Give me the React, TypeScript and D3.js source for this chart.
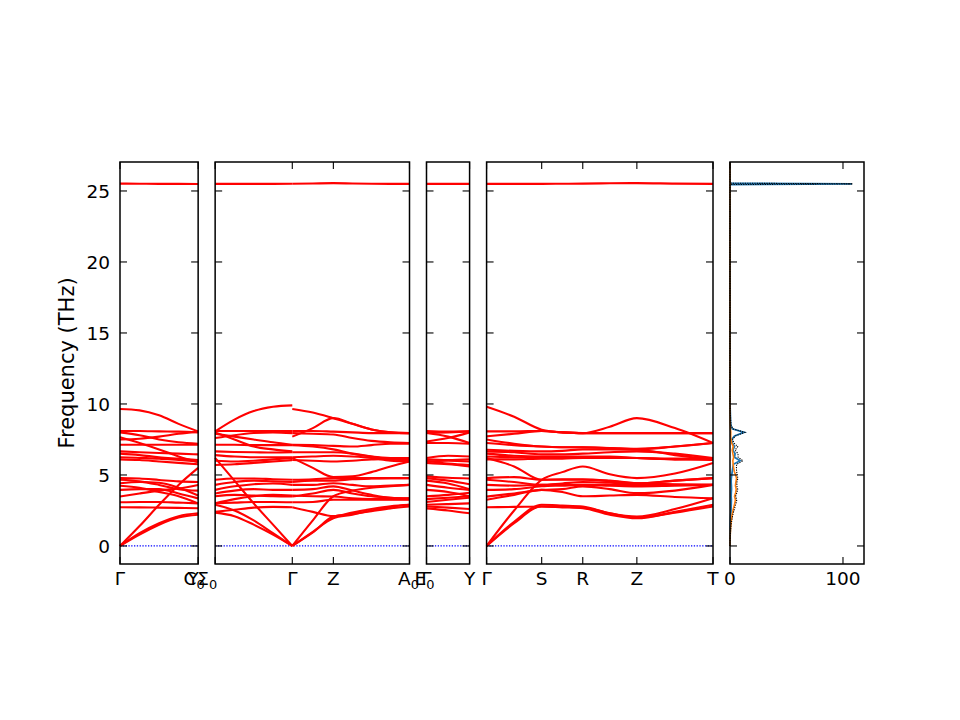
import React from 'react';
import * as d3 from 'd3';

// ---- band data (THz), one array per band, sampled at the k points of each segment ----
const kGY = [0, 19.5, 39, 58.5, 78];
const bandsGY = [
  [0, 1.4, 2.9, 4.3, 5.5],
  [0, 0.9, 1.6, 2.1, 2.3],
  [0, 0.8, 1.5, 2.0, 2.2],
  [2.73, 2.72, 2.7, 2.68, 2.66],
  [3.08, 3.1, 3.1, 3.05, 3.0],
  [3.48, 3.7, 3.9, 4.05, 4.3],
  [3.95, 4.0, 4.0, 3.7, 3.35],
  [4.24, 4.1, 3.8, 3.5, 3.0],
  [4.42, 4.5, 4.45, 4.1, 3.55],
  [4.66, 4.55, 4.3, 4.0, 3.9],
  [4.78, 4.75, 4.65, 4.55, 4.5],
  [6.1, 6.05, 5.95, 5.85, 5.75],
  [6.25, 6.2, 6.15, 6.05, 5.95],
  [6.5, 6.4, 6.25, 6.15, 6.05],
  [6.66, 6.6, 6.55, 6.5, 6.45],
  [7.13, 7.13, 7.13, 7.13, 7.13],
  [7.65, 7.25, 6.8, 6.3, 5.9],
  [7.5, 7.55, 7.7, 7.9, 8.05],
  [8.0, 7.8, 7.5, 7.3, 7.2],
  [8.1, 8.1, 8.07, 8.05, 8.0],
  [9.65, 9.55, 9.2, 8.6, 8.07],
];
const highGY = [25.52, 25.51, 25.5, 25.5, 25.49];

const kSG = [0, 19.25, 38.5, 57.75, 77];
const bandsSG = [
  [6.2, 4.6, 3.0, 1.5, 0],
  [2.9, 2.5, 1.8, 0.9, 0],
  [2.35, 2.1, 1.5, 0.8, 0],
  [2.4, 2.55, 2.7, 2.75, 2.73],
  [3.0, 3.05, 3.1, 3.1, 3.08],
  [3.0, 3.3, 3.5, 3.6, 3.55],
  [3.5, 3.6, 3.55, 3.5, 3.48],
  [3.7, 3.9, 4.0, 3.95, 3.95],
  [3.95, 4.2, 4.35, 4.4, 4.3],
  [4.3, 4.5, 4.6, 4.55, 4.5],
  [4.66, 4.75, 4.75, 4.7, 4.66],
  [5.7, 5.75, 5.85, 5.95, 6.05],
  [6.0, 5.95, 6.0, 6.1, 6.2],
  [6.4, 6.3, 6.25, 6.25, 6.25],
  [6.66, 6.62, 6.6, 6.58, 6.6],
  [7.13, 7.13, 7.1, 7.1, 7.1],
  [8.0, 7.5, 7.0, 6.8, 6.66],
  [7.6, 7.8, 7.95, 8.0, 7.95],
  [7.9, 7.7, 7.5, 7.3, 7.13],
  [8.1, 8.1, 8.1, 8.1, 8.1],
  [8.07, 8.9, 9.5, 9.8, 9.9],
];
const highSG = [25.5, 25.5, 25.5, 25.5, 25.51];

const kGZA = [77, 97.5, 118, 137, 156, 175, 194];
const bandsGZA = [
  [0, 1.8, 3.5, 3.9, 4.1, 4.2, 4.3],
  [0, 1.0, 1.95, 2.2, 2.5, 2.75, 2.9],
  [0, 0.95, 2.07, 2.25, 2.45, 2.65, 2.78],
  [2.73, 2.4, 2.1, 2.35, 2.6, 2.8, 2.9],
  [3.08, 3.1, 3.25, 3.25, 3.25, 3.25, 3.25],
  [3.55, 3.5, 3.48, 3.35, 3.3, 3.3, 3.3],
  [3.48, 3.7, 3.95, 3.7, 3.5, 3.4, 3.36],
  [3.95, 4.0, 4.2, 3.9, 3.6, 3.4, 3.36],
  [4.3, 4.3, 4.42, 4.3, 4.2, 4.25, 4.3],
  [4.5, 4.6, 4.6, 4.7, 4.75, 4.78, 4.78],
  [4.66, 4.7, 4.78, 4.78, 4.78, 4.78, 4.78],
  [6.05, 6.0, 5.95, 6.0, 6.1, 6.15, 6.2],
  [6.2, 5.5, 4.85, 4.9, 5.2, 5.6, 5.95],
  [6.25, 6.3, 6.35, 6.3, 6.2, 6.0, 5.95],
  [6.6, 6.6, 6.6, 6.5, 6.3, 6.1, 6.05],
  [7.1, 7.0, 6.8, 6.5, 6.3, 6.2, 6.19],
  [7.13, 7.1, 7.05, 7.0, 7.1, 7.2, 7.2],
  [7.95, 7.9, 7.85, 7.6, 7.4, 7.3, 7.25],
  [7.7, 8.3, 9.0, 8.6, 8.2, 8.0, 7.95],
  [8.1, 8.1, 8.05, 8.0, 7.95, 7.95, 7.95],
  [9.65, 9.4, 9.0, 8.6, 8.2, 8.0, 7.95],
];
const highGZA = [25.51, 25.53, 25.55, 25.53, 25.51, 25.5, 25.5];

const kEY = [0, 21.5, 43];
const bandsEY = [
  [2.65, 2.5, 2.3],
  [2.78, 2.7, 2.6],
  [2.9, 2.95, 3.0],
  [3.1, 3.25, 3.4],
  [3.3, 3.4, 3.5],
  [3.5, 3.6, 3.75],
  [3.95, 3.8, 3.5],
  [4.3, 4.1, 3.95],
  [4.6, 4.4, 4.0],
  [4.78, 4.6, 4.35],
  [4.9, 4.8, 4.75],
  [5.85, 5.75, 5.6],
  [5.95, 6.0, 5.95],
  [6.1, 6.05, 6.1],
  [6.0, 5.8, 5.7],
  [6.2, 6.35, 6.3],
  [7.25, 7.25, 7.2],
  [7.36, 7.6, 8.0],
  [7.95, 7.7, 7.25],
  [7.95, 8.0, 8.07],
  [8.1, 8.05, 8.07],
];
const highEY = [25.5, 25.5, 25.5];

const kGSRZT = [0, 27.5, 55, 75.5, 96, 123, 150, 188, 226];
const bandsGSRZT = [
  [0, 2.5, 4.66, 5.2, 5.6, 5.05, 4.78, 5.1, 5.84],
  [0, 1.7, 2.9, 2.85, 2.78, 2.3, 2.07, 2.6, 3.36],
  [0, 1.6, 2.78, 2.72, 2.66, 2.2, 1.95, 2.4, 2.9],
  [2.73, 2.75, 2.78, 2.75, 2.7, 2.3, 2.0, 2.35, 2.78],
  [3.25, 3.6, 3.95, 3.8, 3.5, 3.55, 3.6, 3.45, 3.36],
  [3.48, 3.7, 3.95, 4.0, 4.2, 4.0, 3.72, 3.9, 4.3],
  [3.95, 4.0, 4.2, 4.25, 4.3, 4.25, 4.2, 4.25, 4.3],
  [4.3, 4.25, 4.3, 4.3, 4.3, 4.3, 4.3, 4.3, 4.3],
  [4.66, 4.5, 4.3, 4.4, 4.5, 4.45, 4.42, 4.6, 4.78],
  [4.78, 4.85, 4.66, 4.66, 4.66, 4.55, 4.42, 4.6, 4.78],
  [6.19, 5.6, 4.66, 4.7, 4.7, 4.6, 4.42, 4.35, 4.3],
  [6.1, 6.1, 6.15, 6.15, 6.2, 6.2, 6.19, 6.15, 6.19],
  [6.3, 6.25, 6.2, 6.2, 6.2, 6.2, 6.19, 6.1, 6.05],
  [6.5, 6.35, 6.3, 6.3, 6.3, 6.3, 6.19, 6.1, 6.19],
  [6.66, 6.6, 6.45, 6.45, 6.5, 6.6, 6.66, 6.5, 6.19],
  [6.78, 6.7, 6.66, 6.7, 6.8, 6.8, 6.78, 6.4, 6.07],
  [7.5, 7.2, 7.0, 6.95, 6.95, 6.9, 6.8, 7.0, 7.25],
  [7.25, 7.1, 7.0, 6.95, 6.95, 6.9, 6.85, 7.0, 7.25],
  [7.72, 7.9, 8.1, 8.0, 7.95, 7.95, 7.95, 7.95, 7.95],
  [8.07, 8.07, 8.1, 8.0, 7.95, 7.95, 7.95, 7.95, 7.95],
  [9.8, 9.1, 8.19, 8.0, 7.95, 8.4, 9.0, 8.3, 7.25],
];
const highGSRZT = [25.5, 25.5, 25.5, 25.51, 25.52, 25.54, 25.55, 25.52, 25.5];

// panel path lengths and high-symmetry labels
const panelLengths = [78, 194, 43, 226];
const pathTicks = [[0, 78], [0, 77, 118, 194], [0, 43], [0, 55, 96, 150, 226]];
const pathLabels = [['Γ', 'Y'], ['Σ_0', 'Γ', 'Z', 'A_0'], ['Γ', 'Y'], ['Γ', 'S', 'R', 'Z', 'T']];
const extraLabels = [{ panel: 0, k: 78, text: 'C_0' }, { panel: 2, k: 0, text: 'E_0' }];

// ---- DOS data ----
const dosFreq = [
  0, 0.25, 0.5, 0.75, 1, 1.25, 1.5, 1.75, 2, 2.25, 2.5, 2.75, 3, 3.25, 3.5, 3.75, 4, 4.25, 4.5, 4.75,
  5, 5.25, 5.5, 5.75, 6, 6.25, 6.5, 6.75, 7, 7.25, 7.5, 7.75, 8, 8.25, 8.5, 8.75, 9, 9.25, 9.5, 9.75,
  10, 10.5, 12, 15, 20, 25, 25.45, 25.5, 25.55, 26, 27,
];
const dosBlue = [
  0, 0, 0.05, 0.1, 0.15, 0.2, 0.3, 0.4, 0.5, 0.7, 0.9, 1.0, 1.1, 1.2, 1.0, 1.1, 1.3, 1.2, 1.0, 1.1,
  1.5, 2.0, 2.5, 3.0, 9.0, 4.0, 4.5, 2.5, 4.0, 2.0, 1.5, 4.0, 12.5, 2.0, 0.8, 0.5, 0.4, 0.3, 0.2, 0.1,
  0.05, 0, 0, 0, 0, 0, 0, 108, 0, 0, 0,
];
const dosOrange = [
  0, 0.05, 0.1, 0.2, 0.35, 0.5, 0.8, 1.1, 1.5, 2.0, 2.6, 3.4, 4.2, 4.8, 4.0, 5.0, 5.5, 4.8, 5.2, 5.8,
  5.0, 3.8, 3.2, 2.8, 2.5, 3.2, 2.5, 2.0, 2.8, 1.5, 0.8, 0.6, 0.7, 0.4, 0.2, 0.15, 0.1, 0.08, 0.05, 0.03,
  0.02, 0.01, 0.01, 0.01, 0.01, 0.01, 0.01, 0.5, 0.01, 0.01, 0.01,
];
const dosTicks = [0, 100];
const freqTicks = [0, 5, 10, 15, 20, 25];

const segments = [
  { panel: 0, k: kGY, bands: bandsGY, high: highGY },
  { panel: 1, k: kSG, bands: bandsSG, high: highSG },
  { panel: 1, k: kGZA, bands: bandsGZA, high: highGZA },
  { panel: 2, k: kEY, bands: bandsEY, high: highEY },
  { panel: 3, k: kGSRZT, bands: bandsGSRZT, high: highGSRZT },
];

// ---- layout ----
const W = 960;
const H = 720;
const top = 162;
const bottom = 564;
const left = 120;
const bandsRight = 713;
const gap = 17;
const dosLeft = 730;
const dosRight = 864;
const tickLen = 7;
const font = 'DejaVu Sans, sans-serif';
const fs = 18.5;
const fsLabel = 21;

const labelNudge: Record<string, number> = {
  '0:1': -5,
  '1:0': -8,
  '1:3': -1,
  'x0': -4,
  'x2': -2,
};

const y = d3.scaleLinear().domain([-1.27, 27.04]).range([bottom, top]);
const totalLen = d3.sum(panelLengths);
const pxPerK = (bandsRight - left - gap * (panelLengths.length - 1)) / totalLen;
const panelX = panelLengths.map((len, i) => {
  const x0 = left + d3.sum(panelLengths.slice(0, i)) * pxPerK + gap * i;
  return d3.scaleLinear().domain([0, len]).range([x0, x0 + len * pxPerK]);
});
const xDos = d3.scaleLinear().domain([0, 118.6]).range([dosLeft, dosRight]);

const Label: React.FC<{ x: number; text: string }> = ({ x, text }) => {
  const [base, sub] = text.split('_');
  return (
    <text x={x} y={585} textAnchor="middle" fontFamily={font} fontSize={fs} fill="#000">
      {base}
      {sub && (
        <tspan fontSize={fs * 0.7} dy={4}>
          {sub}
        </tspan>
      )}
    </text>
  );
};

const YTicks: React.FC<{ x0: number; x1: number }> = ({ x0, x1 }) => (
  <g stroke="#000" strokeWidth={1.1}>
    {freqTicks.map((t) => (
      <g key={t}>
        <line x1={x0} x2={x0 + tickLen} y1={y(t)} y2={y(t)} />
        <line x1={x1} x2={x1 - tickLen} y1={y(t)} y2={y(t)} />
      </g>
    ))}
  </g>
);

export default function App() {
  const dosTotal = dosBlue.map((b, i) => b + dosOrange[i]);
  const dosLine = (vals: number[]) =>
    d3.line<number>().x((v) => xDos(v)).y((_, i) => y(dosFreq[i]))(vals) || '';

  return (
    <svg
      width={W}
      height={H}
      viewBox={`0 0 ${W} ${H}`}
      style={{ position: 'absolute', left: 0, top: 0, background: '#fff' }}
    >
      <rect width={W} height={H} fill="#fff" />

      {/* band panels */}
      {panelX.map((sx, p) => {
        const [x0, x1] = sx.range();
        return (
          <g key={p}>
            <line
              x1={x0}
              x2={x1}
              y1={y(0)}
              y2={y(0)}
              stroke="#0000ff"
              strokeWidth={1.3}
              strokeDasharray="1.3,1.5"
            />
            {segments
              .filter((s) => s.panel === p)
              .map((s, si) => {
                const line = d3
                  .line<number>()
                  .x((_, i) => sx(s.k[i]))
                  .y((v) => y(v))
                  .curve(d3.curveMonotoneX);
                return (
                  <g key={si} fill="none" stroke="#ff0000" strokeWidth={2.1}>
                    {s.bands.map((b, bi) => (
                      <path key={bi} d={line(b) || ''} />
                    ))}
                    <path d={line(s.high) || ''} />
                  </g>
                );
              })}
            <rect x={x0} y={top} width={x1 - x0} height={bottom - top} fill="none" stroke="#000" strokeWidth={1.5} />
            <YTicks x0={x0} x1={x1} />
            <g stroke="#000" strokeWidth={1.1}>
              {pathTicks[p].map((k) => (
                <g key={k}>
                  <line x1={sx(k)} x2={sx(k)} y1={bottom} y2={bottom - tickLen} />
                  <line x1={sx(k)} x2={sx(k)} y1={top} y2={top + tickLen} />
                </g>
              ))}
            </g>
            {pathTicks[p].map((k, i) => (
              <Label key={k} x={sx(k) + (labelNudge[`${p}:${i}`] || 0)} text={pathLabels[p][i]} />
            ))}
          </g>
        );
      })}
      {extraLabels.map((l, i) => (
        <Label key={i} x={panelX[l.panel](l.k) + (labelNudge[`x${l.panel}`] || 0)} text={l.text} />
      ))}

      {/* frequency axis */}
      {freqTicks.map((t) => (
        <text
          key={t}
          x={110}
          y={y(t)}
          dy="0.36em"
          textAnchor="end"
          fontFamily={font}
          fontSize={fs}
          fill="#000"
        >
          {t}
        </text>
      ))}
      <text
        transform={`translate(66, ${(top + bottom) / 2}) rotate(-90)`}
        textAnchor="middle"
        dy="0.36em"
        fontFamily={font}
        fontSize={fsLabel}
        fill="#000"
      >
        Frequency (THz)
      </text>

      {/* DOS panel */}
      <g>
        <path d={dosLine(dosBlue)} fill="none" stroke="#1f77b4" strokeWidth={1.8} />
        <path d={dosLine(dosOrange)} fill="none" stroke="#ff7f0e" strokeWidth={1.6} />
        <path d={dosLine(dosTotal)} fill="none" stroke="#000" strokeWidth={1.1} strokeDasharray="1.2,1.2" />
        <rect x={dosLeft} y={top} width={dosRight - dosLeft} height={bottom - top} fill="none" stroke="#000" strokeWidth={1.5} />
        <YTicks x0={dosLeft} x1={dosRight} />
        <g stroke="#000" strokeWidth={1.1}>
          {dosTicks.map((t) => (
            <g key={t}>
              <line x1={xDos(t)} x2={xDos(t)} y1={bottom} y2={bottom - tickLen} />
              <line x1={xDos(t)} x2={xDos(t)} y1={top} y2={top + tickLen} />
            </g>
          ))}
        </g>
        {dosTicks.map((t) => (
          <text key={t} x={xDos(t)} y={585} textAnchor="middle" fontFamily={font} fontSize={fs} fill="#000">
            {t}
          </text>
        ))}
      </g>
    </svg>
  );
}
